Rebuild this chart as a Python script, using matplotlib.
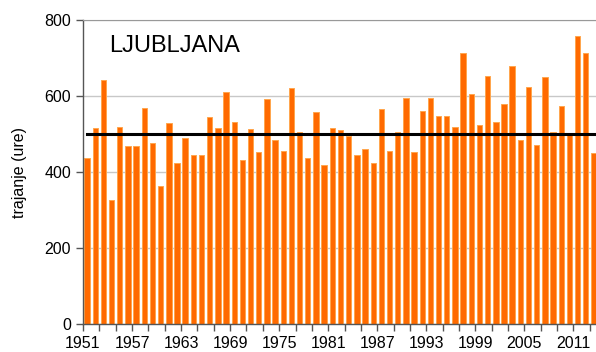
import numpy as np
import matplotlib
matplotlib.use("Agg")
import matplotlib.pyplot as plt

plt.rcParams['font.family'] = ['Liberation Sans', 'DejaVu Sans']

# annual sunshine duration (hours), Ljubljana
years = list(range(1951, 2014))
hours = [436, 516, 642, 326, 518, 468, 468, 569, 477, 364,
         528, 423, 490, 444, 446, 544, 516, 611, 531, 432,
         512, 453, 592, 484, 456, 620, 506, 437, 557, 418,
         516, 510, 494, 446, 461, 424, 567, 456, 506, 595,
         453, 561, 595, 547, 547, 519, 712, 604, 523, 653,
         532, 579, 680, 484, 624, 470, 649, 504, 575, 498,
         757, 712, 449]
mean_level = 500
y_ticks = [0, 200, 400, 600, 800]
label_years = list(range(1951, 2014, 6))

fig = plt.figure(figsize=(5.96, 3.52), dpi=100)
W, H = 596, 352
ax = fig.add_axes([83 / W, (H - 324) / H, 515 / W, 304 / H])

x = np.array(years)
ax.bar(x, hours, width=0.66, color='#ff6a00', edgecolor='#ffa64d',
       linewidth=0.7, zorder=2)
ax.plot([years[0], years[-1]], [mean_level, mean_level], color='black',
        linewidth=2.2, zorder=3)

ax.set_xlim(years[0] - 0.5, years[-1] + 0.5)
ax.set_ylim(0, 800)

# y axis
ax.set_yticks(y_ticks)
ax.yaxis.grid(True, color='#c8c8c8', linewidth=1, zorder=0)
ax.set_axisbelow(True)
ax.set_ylabel('trajanje (ure)', fontsize=11.5, labelpad=12.5)

# x axis: ticks every two years on category edges, labels every six
tick_pos = np.arange(years[0] - 0.5, years[-1] + 0.6, 2)
ax.set_xticks(tick_pos)
labels = [str(int(p + 0.5)) if int(p + 0.5) in label_years else ''
          for p in tick_pos]
ax.set_xticklabels(labels)

ax.tick_params(axis='both', labelsize=11.5, colors='#555555',
               labelcolor='black', length=5, width=1, direction='out')
ax.tick_params(axis='x', pad=4)

for side in ['left', 'bottom']:
    ax.spines[side].set_color('#555555')
    ax.spines[side].set_linewidth(1)
ax.spines['top'].set_color('#999999')
ax.spines['right'].set_visible(False)

ax.text(0.05, 0.915, 'LJUBLJANA', transform=ax.transAxes, fontsize=17,
        ha='left', va='center')

fig.savefig('out.png', dpi=100)
